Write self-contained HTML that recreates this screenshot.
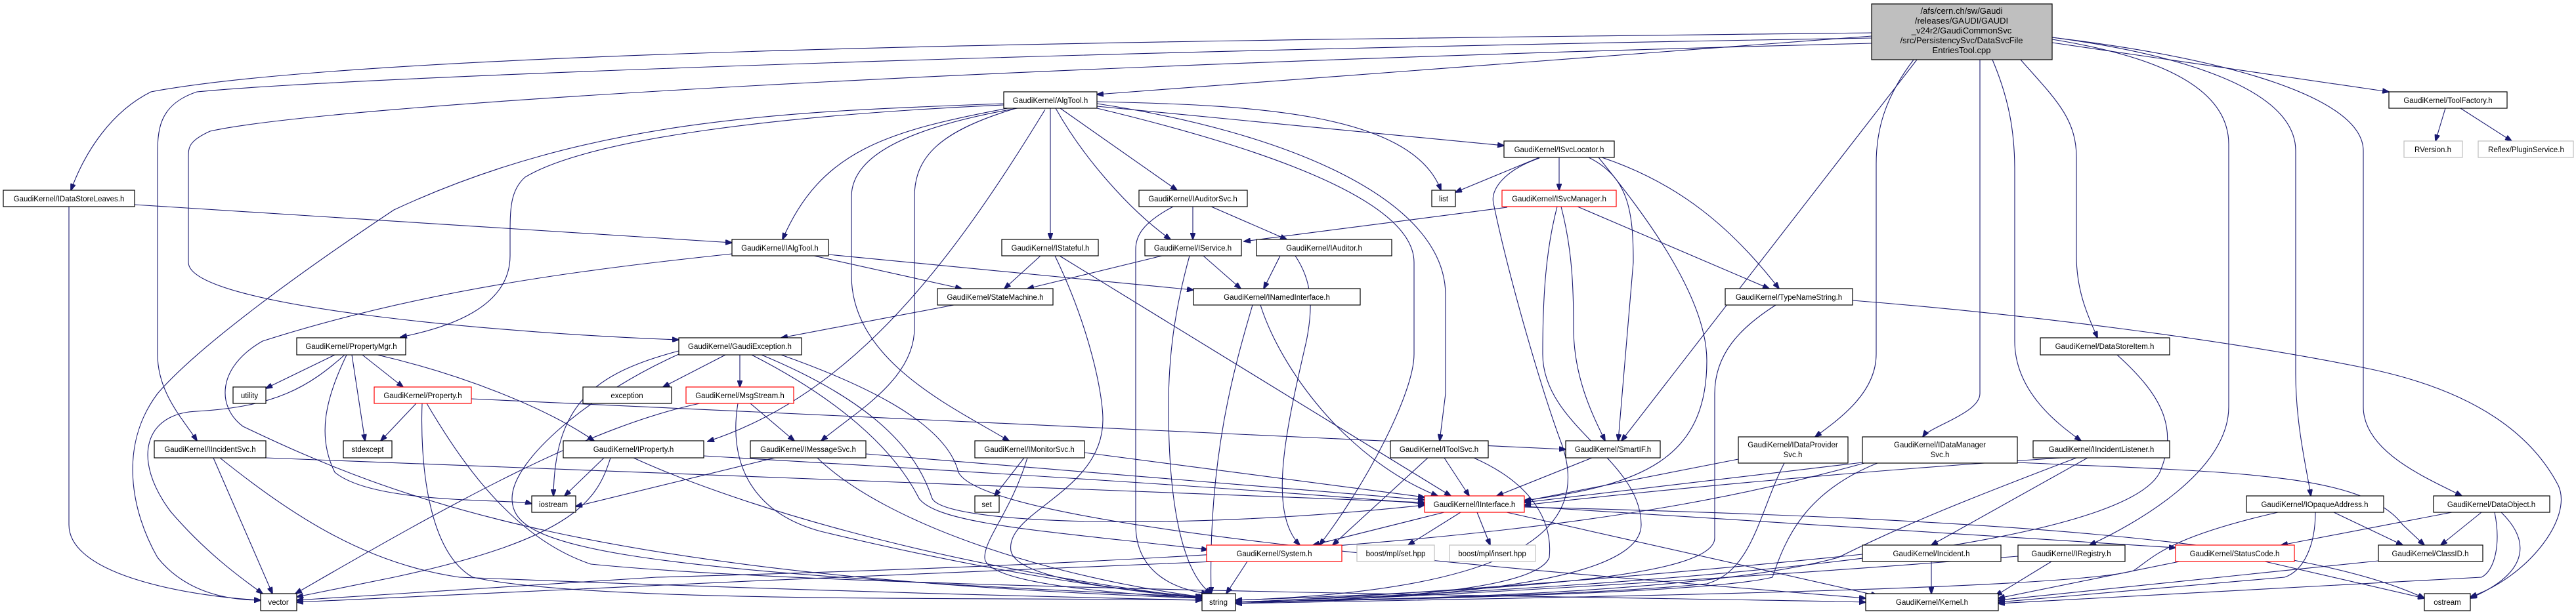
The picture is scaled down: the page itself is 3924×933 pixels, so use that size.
<!DOCTYPE html>
<html><head><meta charset="utf-8"><style>
html,body{margin:0;padding:0;background:#fff;}
svg{display:block;}
text{font-family:"Liberation Sans",sans-serif;font-size:11.5px;fill:#000;}
.n{fill:#fff;stroke:#000;stroke-width:1.2;}
.r{fill:#fff;stroke:#ff0000;stroke-width:1.2;}
.g{fill:#fff;stroke:#bfbfbf;stroke-width:1.2;}
.e path{fill:none;stroke:#191970;stroke-width:1.1;}
</style></head><body>
<svg width="3924" height="933" viewBox="0 0 3924 933" xmlns="http://www.w3.org/2000/svg">
<defs><marker id="a" markerWidth="11" markerHeight="8" refX="10" refY="4" orient="auto" markerUnits="userSpaceOnUse"><path d="M0,0 L11,4 L0,8z" fill="#191970" stroke="#191970"/></marker></defs>
<g class="e" marker-end="url(#a)">
<path marker-end="url(#a)" d="M2851,50 C2000,60 600,70 230,140 C170,170 130,230 108,290"/>
<path marker-end="url(#a)" d="M2851,58 C1500,80 500,120 300,140 C240,160 240,200 240,240 L240,540 C240,600 280,640 300,672"/>
<path marker-end="url(#a)" d="M2851,66 C1500,100 500,160 320,200 C287,215 287,225 287,240 L287,400 C287,470 800,510 1034,518"/>
<path marker-end="url(#a)" d="M2851,55 L1671,144"/>
<path marker-end="url(#a)" d="M2920,91 L2470,672"/>
<path marker-end="url(#a)" d="M2915,91 C2870,150 2858,200 2858,250 L2858,540 C2858,600 2800,640 2765,666"/>
<path marker-end="url(#a)" d="M3016,91 L3016,600 C3016,630 2940,650 2929,666"/>
<path marker-end="url(#a)" d="M3035,91 C3060,150 3069,200 3069,260 L3069,520 C3069,600 3140,650 3170,672"/>
<path marker-end="url(#a)" d="M3078,91 C3130,150 3163,180 3163,240 L3163,390 C3163,450 3185,490 3195,515"/>
<path marker-end="url(#a)" d="M3126,60 C3250,80 3395,120 3395,220 L3395,620 C3395,720 3250,800 3183,831"/>
<path marker-end="url(#a)" d="M3126,57 C3300,80 3497,130 3497,230 L3497,570 C3497,650 3515,720 3520,756"/>
<path marker-end="url(#a)" d="M3126,57 C3400,90 3600,150 3600,230 L3600,620 C3600,690 3700,730 3750,756"/>
<path marker-end="url(#a)" d="M3126,65 L3639,140"/>
<path marker-end="url(#a)" d="M3725,165 L3710,215"/>
<path marker-end="url(#a)" d="M3748,165 L3826,215"/>
<path marker-end="url(#a)" d="M1529,158 C1200,170 900,180 600,320 C450,420 300,530 240,600 C180,680 200,780 240,850 C280,900 340,915 397,915"/>
<path marker-end="url(#a)" d="M1529,160 C1200,175 900,210 800,270 C777,290 777,320 777,360 L777,390 C777,470 680,500 610,514"/>
<path marker-end="url(#a)" d="M1535,165 C1350,200 1250,230 1192,365"/>
<path marker-end="url(#a)" d="M1550,165 C1350,200 1297,250 1297,300 L1297,420 C1297,550 1450,620 1537,672"/>
<path marker-end="url(#a)" d="M1548,165 C1430,200 1393,240 1393,300 L1393,500 C1393,580 1300,630 1251,672"/>
<path marker-end="url(#a)" d="M1592,167 C1450,400 1300,600 1078,673"/>
<path marker-end="url(#a)" d="M1600,165 L1600,365"/>
<path marker-end="url(#a)" d="M1608,165 C1650,240 1720,320 1783,365"/>
<path marker-end="url(#a)" d="M1615,165 L1793,290"/>
<path marker-end="url(#a)" d="M1671,155 C1900,160 2150,170 2195,290"/>
<path marker-end="url(#a)" d="M1671,162 L2291,222"/>
<path marker-end="url(#a)" d="M1671,158 C1950,200 2202,300 2202,450 L2202,600 L2193,672"/>
<path marker-end="url(#a)" d="M1671,165 C1900,220 2154,300 2154,400 L2154,540 C2154,600 2080,740 2010,831"/>
<path marker-end="url(#a)" d="M105,315 L105,800 C105,880 300,910 397,915"/>
<path marker-end="url(#a)" d="M205,312 L1115,370"/>
<path marker-end="url(#a)" d="M2345,240 L2217,293"/>
<path marker-end="url(#a)" d="M2375,240 L2375,290"/>
<path marker-end="url(#a)" d="M2420,240 C2480,270 2488,320 2488,400 L2465,672"/>
<path marker-end="url(#a)" d="M2440,240 C2560,280 2640,350 2710,440"/>
<path marker-end="url(#a)" d="M2435,240 C2500,320 2600,450 2600,550 C2600,700 2500,740 2322,763"/>
<path marker-end="url(#a)" d="M2345,241 C2290,260 2270,290 2275,310 C2300,430 2350,600 2380,680 C2420,800 2330,900 1882,915"/>
<path marker-end="url(#a)" d="M2296,316 L1895,368"/>
<path marker-end="url(#a)" d="M2378,315 C2395,380 2397,440 2397,500 C2397,580 2430,640 2445,672"/>
<path marker-end="url(#a)" d="M2403,315 L2695,440"/>
<path marker-end="url(#a)" d="M2372,315 C2355,380 2350,450 2350,540 C2350,650 2500,700 2500,800 C2500,900 2100,915 1882,918"/>
<path marker-end="url(#a)" d="M1817,315 L1817,365"/>
<path marker-end="url(#a)" d="M1845,315 L1960,365"/>
<path marker-end="url(#a)" d="M1787,315 C1740,340 1730,360 1730,380 L1730,800 C1730,880 1800,900 1840,905"/>
<path marker-end="url(#a)" d="M1950,390 L1925,440"/>
<path marker-end="url(#a)" d="M1973,390 C2000,430 2000,470 1990,520 C1960,650 1930,780 1980,831"/>
<path marker-end="url(#a)" d="M1770,390 L1565,440"/>
<path marker-end="url(#a)" d="M1833,390 L1890,440"/>
<path marker-end="url(#a)" d="M1812,390 C1790,470 1780,540 1780,620 C1780,800 1810,880 1845,905"/>
<path marker-end="url(#a)" d="M1585,390 L1530,440"/>
<path marker-end="url(#a)" d="M1607,390 C1660,500 1680,600 1680,640 C1680,750 1530,780 1540,840 C1550,890 1780,905 1835,910"/>
<path marker-end="url(#a)" d="M1614,390 L2210,756"/>
<path marker-end="url(#a)" d="M1240,390 L1465,440"/>
<path marker-end="url(#a)" d="M1262,388 L1818,442"/>
<path marker-end="url(#a)" d="M1115,387 C900,410 650,440 400,520 C330,560 330,620 370,650 C600,760 900,880 1831,912"/>
<path marker-end="url(#a)" d="M1453,465 L1190,515"/>
<path marker-end="url(#a)" d="M1908,465 C1880,560 1840,700 1845,905"/>
<path marker-end="url(#a)" d="M1920,465 C1950,560 2050,700 2190,756"/>
<path marker-end="url(#a)" d="M2705,465 C2650,500 2612,540 2612,600 L2612,820 C2612,880 2300,900 1882,915"/>
<path marker-end="url(#a)" d="M2822,458 C3100,480 3400,520 3598,560 C3750,590 3850,650 3897,740 C3920,790 3850,880 3763,910"/>
<path marker-end="url(#a)" d="M510,541 L405,592"/>
<path marker-end="url(#a)" d="M525,541 C470,590 420,620 300,627 C220,630 200,700 260,780 C320,850 380,890 400,905"/>
<path marker-end="url(#a)" d="M528,541 C500,600 480,660 510,720 C570,770 780,760 810,768"/>
<path marker-end="url(#a)" d="M536,541 L556,672"/>
<path marker-end="url(#a)" d="M552,541 L614,590"/>
<path marker-end="url(#a)" d="M575,541 C700,570 830,620 905,672"/>
<path marker-end="url(#a)" d="M3225,541 C3290,600 3320,650 3290,720 C3250,800 2900,880 1882,918"/>
<path marker-end="url(#a)" d="M634,615 L580,672"/>
<path marker-end="url(#a)" d="M718,608 L2385,685"/>
<path marker-end="url(#a)" d="M643,615 C640,700 650,840 720,880 C900,920 1500,910 1831,915"/>
<path marker-end="url(#a)" d="M650,615 C700,700 780,820 900,860 C1300,900 2500,910 2842,918"/>
<path marker-end="url(#a)" d="M1105,541 L1010,590"/>
<path marker-end="url(#a)" d="M1127,541 L1127,590"/>
<path marker-end="url(#a)" d="M1034,535 C900,570 845,620 843,756"/>
<path marker-end="url(#a)" d="M1034,540 C900,600 780,700 780,760 C780,830 900,870 1831,910"/>
<path marker-end="url(#a)" d="M1145,541 C1300,620 1370,700 1400,760 C1430,800 1600,810 1840,838"/>
<path marker-end="url(#a)" d="M1160,541 C1350,620 1400,700 1420,760 C1440,800 1800,810 2170,770"/>
<path marker-end="url(#a)" d="M1190,541 C1300,580 1440,640 1460,720 C1500,800 2200,860 2842,912"/>
<path marker-end="url(#a)" d="M1066,615 C900,650 700,760 450,905"/>
<path marker-end="url(#a)" d="M1143,615 L1210,672"/>
<path marker-end="url(#a)" d="M1124,615 C1110,700 1140,780 1250,810 C1500,870 1700,900 1831,912"/>
<path marker-end="url(#a)" d="M325,698 L415,905"/>
<path marker-end="url(#a)" d="M335,698 C450,790 560,860 700,880 C1200,900 1600,910 1831,915"/>
<path marker-end="url(#a)" d="M405,698 C1200,730 1800,750 2170,766"/>
<path marker-end="url(#a)" d="M920,698 L860,756"/>
<path marker-end="url(#a)" d="M930,698 C910,760 880,820 600,880 L452,910"/>
<path marker-end="url(#a)" d="M965,698 C1100,760 1400,860 1831,912"/>
<path marker-end="url(#a)" d="M1072,695 C1500,720 1900,745 2170,768"/>
<path marker-end="url(#a)" d="M1180,698 L877,772"/>
<path marker-end="url(#a)" d="M1245,698 C1350,800 1600,880 1831,910"/>
<path marker-end="url(#a)" d="M1319,692 L2170,762"/>
<path marker-end="url(#a)" d="M1560,698 L1515,756"/>
<path marker-end="url(#a)" d="M1565,698 C1540,780 1500,820 1500,850 C1500,890 1700,905 1831,912"/>
<path marker-end="url(#a)" d="M1652,690 L2170,758"/>
<path marker-end="url(#a)" d="M2200,698 L2238,756"/>
<path marker-end="url(#a)" d="M2175,698 L2030,831"/>
<path marker-end="url(#a)" d="M2245,698 C2340,740 2365,800 2360,850 C2340,900 2100,915 1882,918"/>
<path marker-end="url(#a)" d="M2425,698 L2280,756"/>
<path marker-end="url(#a)" d="M2648,700 L2322,764"/>
<path marker-end="url(#a)" d="M2718,706 C2680,780 2670,870 2600,890 C2400,910 2000,915 1882,918"/>
<path marker-end="url(#a)" d="M2837,705 L2322,766"/>
<path marker-end="url(#a)" d="M2860,706 C2750,750 2720,820 2700,880 C2600,905 2100,915 1882,918"/>
<path marker-end="url(#a)" d="M2840,706 C2500,800 2100,850 1000,880 L452,915"/>
<path marker-end="url(#a)" d="M3073,705 C3400,720 3600,720 3660,800 L3693,831"/>
<path marker-end="url(#a)" d="M3140,698 C2800,720 2500,750 2322,770"/>
<path marker-end="url(#a)" d="M3180,698 L2942,831"/>
<path marker-end="url(#a)" d="M3163,698 C3000,760 2900,800 2800,850 C2600,905 2100,915 1882,918"/>
<path marker-end="url(#a)" d="M2200,781 L2000,831"/>
<path marker-end="url(#a)" d="M2225,781 L2145,831"/>
<path marker-end="url(#a)" d="M2250,781 L2270,831"/>
<path marker-end="url(#a)" d="M2295,781 L2860,908"/>
<path marker-end="url(#a)" d="M2322,772 L3314,835"/>
<path marker-end="url(#a)" d="M2322,773 C3000,790 3500,820 3693,912"/>
<path marker-end="url(#a)" d="M1850,856 C1500,870 800,900 452,918"/>
<path marker-end="url(#a)" d="M1900,856 L1868,905"/>
<path marker-end="url(#a)" d="M2942,856 L2942,905"/>
<path marker-end="url(#a)" d="M2837,845 C2500,880 2100,910 1882,918"/>
<path marker-end="url(#a)" d="M3125,856 L3040,908"/>
<path marker-end="url(#a)" d="M3074,848 C2800,870 2300,905 1882,920"/>
<path marker-end="url(#a)" d="M3320,856 C3200,880 3100,900 3044,912"/>
<path marker-end="url(#a)" d="M3450,856 L3693,912"/>
<path marker-end="url(#a)" d="M3470,781 C3300,820 3280,850 3250,870 C3150,900 2300,912 1882,920"/>
<path marker-end="url(#a)" d="M3555,781 L3660,831"/>
<path marker-end="url(#a)" d="M3527,781 C3527,830 3510,870 3480,880 L3044,918"/>
<path marker-end="url(#a)" d="M3735,781 L3475,831"/>
<path marker-end="url(#a)" d="M3780,781 L3718,831"/>
<path marker-end="url(#a)" d="M3810,781 C3850,820 3860,870 3763,912"/>
<path marker-end="url(#a)" d="M3800,781 C3810,830 3800,870 3780,880 L3044,920"/>
<path marker-end="url(#a)" d="M3623,855 L3044,915"/>
</g>
<!-- root -->
<rect x="2851" y="6" width="275" height="85" fill="#bfbfbf" stroke="#000" stroke-width="1.2"/>
<g text-anchor="middle" style="font-size:13px">
<text x="2988" y="21" style="font-size:13px">/afs/cern.ch/sw/Gaudi</text>
<text x="2988" y="36" style="font-size:13px">/releases/GAUDI/GAUDI</text>
<text x="2988" y="51" style="font-size:13px">_v24r2/GaudiCommonSvc</text>
<text x="2988" y="66" style="font-size:13px">/src/PersistencySvc/DataSvcFile</text>
<text x="2988" y="81" style="font-size:13px">EntriesTool.cpp</text>
</g>
<g>
<rect class="n" x="1529" y="140" width="142" height="25"/>
<rect class="n" x="2291" y="215" width="168" height="25"/>
<rect class="n" x="3639" y="140" width="180" height="25"/>
<rect class="g" x="3662" y="215" width="89" height="25"/>
<rect class="g" x="3775" y="215" width="145" height="25"/>
<rect class="n" x="5" y="290" width="200" height="25"/>
<rect class="n" x="1735" y="290" width="165" height="25"/>
<rect class="n" x="2181" y="290" width="36" height="25"/>
<rect class="r" x="2288" y="290" width="174" height="25"/>
<rect class="n" x="1115" y="365" width="147" height="25"/>
<rect class="n" x="1526" y="365" width="147" height="25"/>
<rect class="n" x="1744" y="365" width="147" height="25"/>
<rect class="n" x="1914" y="365" width="206" height="25"/>
<rect class="n" x="1428" y="440" width="176" height="25"/>
<rect class="n" x="1818" y="440" width="254" height="25"/>
<rect class="n" x="2628" y="440" width="194" height="25"/>
<rect class="n" x="452" y="515" width="166" height="26"/>
<rect class="n" x="1034" y="515" width="187" height="26"/>
<rect class="n" x="3108" y="515" width="197" height="26"/>
<rect class="n" x="355" y="590" width="50" height="25"/>
<rect class="r" x="570" y="590" width="148" height="25"/>
<rect class="n" x="888" y="590" width="135" height="25"/>
<rect class="r" x="1045" y="590" width="164" height="25"/>
<rect class="n" x="235" y="672" width="170" height="26"/>
<rect class="n" x="523" y="672" width="74" height="26"/>
<rect class="n" x="858" y="672" width="214" height="26"/>
<rect class="n" x="1143" y="672" width="176" height="26"/>
<rect class="n" x="1485" y="672" width="167" height="26"/>
<rect class="n" x="2118" y="672" width="149" height="26"/>
<rect class="n" x="2385" y="672" width="144" height="26"/>
<rect class="n" x="2648" y="666" width="167" height="40"/>
<rect class="n" x="2837" y="666" width="236" height="40"/>
<rect class="n" x="3097" y="672" width="208" height="26"/>
<rect class="n" x="810" y="756" width="67" height="25"/>
<rect class="n" x="1485" y="756" width="37" height="25"/>
<rect class="r" x="2170" y="756" width="152" height="25"/>
<rect class="n" x="3422" y="756" width="209" height="25"/>
<rect class="n" x="3707" y="756" width="177" height="25"/>
<rect class="r" x="1838" y="831" width="206" height="25"/>
<rect class="g" x="2067" y="831" width="118" height="25"/>
<rect class="g" x="2208" y="831" width="131" height="25"/>
<rect class="n" x="2837" y="831" width="211" height="25"/>
<rect class="n" x="3074" y="831" width="163" height="25"/>
<rect class="r" x="3314" y="831" width="181" height="25"/>
<rect class="n" x="3623" y="831" width="159" height="25"/>
<rect class="n" x="397" y="905" width="55" height="26"/>
<rect class="n" x="1831" y="905" width="51" height="26"/>
<rect class="n" x="2842" y="905" width="202" height="26"/>
<rect class="n" x="3693" y="905" width="70" height="26"/>
</g>
<g text-anchor="middle">
<text x="1600" y="157">GaudiKernel/AlgTool.h</text>
<text x="2375" y="232">GaudiKernel/ISvcLocator.h</text>
<text x="3729" y="157">GaudiKernel/ToolFactory.h</text>
<text x="3706" y="232">RVersion.h</text>
<text x="3848" y="232">Reflex/PluginService.h</text>
<text x="105" y="307">GaudiKernel/IDataStoreLeaves.h</text>
<text x="1817" y="307">GaudiKernel/IAuditorSvc.h</text>
<text x="2199" y="307">list</text>
<text x="2375" y="307">GaudiKernel/ISvcManager.h</text>
<text x="1188" y="382">GaudiKernel/IAlgTool.h</text>
<text x="1600" y="382">GaudiKernel/IStateful.h</text>
<text x="1817" y="382">GaudiKernel/IService.h</text>
<text x="2017" y="382">GaudiKernel/IAuditor.h</text>
<text x="1516" y="457">GaudiKernel/StateMachine.h</text>
<text x="1945" y="457">GaudiKernel/INamedInterface.h</text>
<text x="2725" y="457">GaudiKernel/TypeNameString.h</text>
<text x="535" y="532">GaudiKernel/PropertyMgr.h</text>
<text x="1127" y="532">GaudiKernel/GaudiException.h</text>
<text x="3206" y="532">GaudiKernel/DataStoreItem.h</text>
<text x="380" y="607">utility</text>
<text x="644" y="607">GaudiKernel/Property.h</text>
<text x="955" y="607">exception</text>
<text x="1127" y="607">GaudiKernel/MsgStream.h</text>
<text x="320" y="689">GaudiKernel/IIncidentSvc.h</text>
<text x="560" y="689">stdexcept</text>
<text x="965" y="689">GaudiKernel/IProperty.h</text>
<text x="1231" y="689">GaudiKernel/IMessageSvc.h</text>
<text x="1568" y="689">GaudiKernel/IMonitorSvc.h</text>
<text x="2192" y="689">GaudiKernel/IToolSvc.h</text>
<text x="2457" y="689">GaudiKernel/SmartIF.h</text>
<text x="2731" y="682">GaudiKernel/IDataProvider</text>
<text x="2731" y="697">Svc.h</text>
<text x="2955" y="682">GaudiKernel/IDataManager</text>
<text x="2955" y="697">Svc.h</text>
<text x="3201" y="689">GaudiKernel/IIncidentListener.h</text>
<text x="843" y="773">iostream</text>
<text x="1503" y="773">set</text>
<text x="2246" y="773">GaudiKernel/IInterface.h</text>
<text x="3526" y="773">GaudiKernel/IOpaqueAddress.h</text>
<text x="3795" y="773">GaudiKernel/DataObject.h</text>
<text x="1941" y="848">GaudiKernel/System.h</text>
<text x="2126" y="848">boost/mpl/set.hpp</text>
<text x="2273" y="848">boost/mpl/insert.hpp</text>
<text x="2942" y="848">GaudiKernel/Incident.h</text>
<text x="3155" y="848">GaudiKernel/IRegistry.h</text>
<text x="3404" y="848">GaudiKernel/StatusCode.h</text>
<text x="3702" y="848">GaudiKernel/ClassID.h</text>
<text x="424" y="922">vector</text>
<text x="1856" y="922">string</text>
<text x="2943" y="922">GaudiKernel/Kernel.h</text>
<text x="3728" y="922">ostream</text>
</g>
</svg>
</body></html>
